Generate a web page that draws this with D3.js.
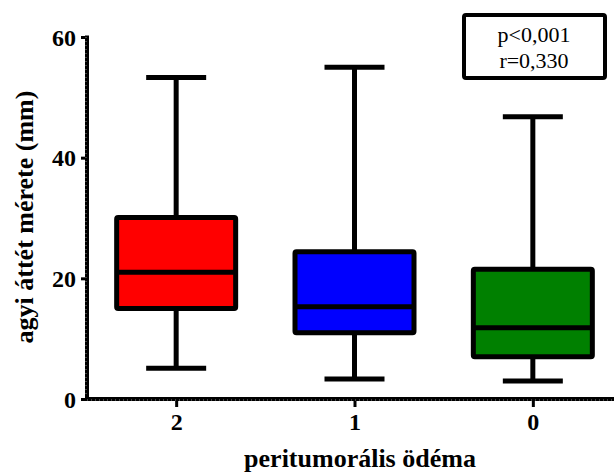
<!DOCTYPE html>
<html>
<head>
<meta charset="utf-8">
<script src="https://cdn.jsdelivr.net/npm/d3@7"></script>
<style>
	body { margin: 0; background: #fff; }
	svg { display: block; }
	text { font-family: "Liberation Serif", "Times New Roman", serif; }
</style>
</head>
<body>
<script>
/*chart data*/
var groups = ["2", "1", "0"];
var whiskerLow = [5.1, 3.3, 3.0];
var q1 = [15.0, 11.0, 7.0];
var median = [21.0, 15.3, 11.8];
var q3 = [30.1, 24.4, 21.5];
var whiskerHigh = [53.3, 55.0, 46.8];
var boxColors = ["#ff0000", "#0000ff", "#008000"];
var yTicks = [0, 20, 40, 60];
var statLines = ["p<0,001", "r=0,330"];

var svgWidth = 614;
var svgHeight = 473;
var margin = { top: 37, right: 0, bottom: 74, left: 87 };
var width = svgWidth - margin.left - margin.right;
var height = svgHeight - margin.top - margin.bottom;

var svg = d3.select("body")
	.append("svg")
	.attr("width", svgWidth)
	.attr("height", svgHeight);

var chartGroup = svg.append("g")
	.attr("transform", `translate(${margin.left}, ${margin.top})`);

/*scales*/
var xScale = d3.scalePoint()
	.domain(groups)
	.range([0, 535])
	.padding(0.5);

var yScale = d3.scaleLinear()
	.domain([0, 60])
	.range([height, 0]);

var boxWidth = 119;
var capWidth = 60;

/*build rows for each box*/
var boxData = groups.map(function (g, i) {
	return {
		group: g,
		low: whiskerLow[i],
		q1: q1[i],
		median: median[i],
		q3: q3[i],
		high: whiskerHigh[i],
		color: boxColors[i]
	};
});

/*y axis with minor stipple*/
var leftAxis = d3.axisLeft(yScale)
	.tickValues(yTicks)
	.tickSize(6)
	.tickPadding(5);

var yAxis = chartGroup.append("g")
	.attr("class", "y-axis")
	.call(leftAxis);

yAxis.select(".domain").remove();
yAxis.selectAll(".tick line")
	.attr("stroke", "#000")
	.attr("stroke-width", 3);
yAxis.selectAll(".tick text")
	.style("font-size", "24px")
	.style("font-weight", "bold")
	.attr("fill", "#000")
	.attr("dy", "0.34em");

yAxis.append("line")
	.attr("x1", 0).attr("x2", 0)
	.attr("y1", -1.5).attr("y2", height + 2)
	.attr("stroke", "#000")
	.attr("stroke-width", 4);
yAxis.append("line")
	.attr("x1", -1).attr("x2", -1)
	.attr("y1", 0).attr("y2", height)
	.attr("stroke", "#888")
	.attr("stroke-width", 1)
	.attr("stroke-dasharray", "1,3");

/*x axis*/
var bottomAxis = d3.axisBottom(xScale)
	.tickSize(8)
	.tickPadding(6);

var xAxis = chartGroup.append("g")
	.attr("class", "x-axis")
	.attr("transform", `translate(0, ${height})`)
	.call(bottomAxis);

xAxis.select(".domain").remove();
xAxis.selectAll(".tick line")
	.attr("stroke", "#000")
	.attr("stroke-width", 3);
xAxis.selectAll(".tick text")
	.style("font-size", "24px")
	.style("font-weight", "bold")
	.attr("fill", "#000");

xAxis.append("line")
	.attr("x1", -2).attr("x2", width)
	.attr("y1", 0).attr("y2", 0)
	.attr("stroke", "#000")
	.attr("stroke-width", 4);
xAxis.append("line")
	.attr("x1", 0).attr("x2", width)
	.attr("y1", 1).attr("y2", 1)
	.attr("stroke", "#888")
	.attr("stroke-width", 1)
	.attr("stroke-dasharray", "1,3");

/*whiskers*/
var boxGroups = chartGroup.selectAll(".box")
	.data(boxData)
	.enter()
	.append("g")
	.attr("class", "box")
	.attr("transform", d => `translate(${xScale(d.group)}, 0)`);

boxGroups.append("line")
	.attr("x1", 0).attr("x2", 0)
	.attr("y1", d => yScale(d.high))
	.attr("y2", d => yScale(d.low))
	.attr("stroke", "#000")
	.attr("stroke-width", 5);

boxGroups.append("line")
	.attr("x1", -capWidth / 2).attr("x2", capWidth / 2)
	.attr("y1", d => yScale(d.high))
	.attr("y2", d => yScale(d.high))
	.attr("stroke", "#000")
	.attr("stroke-width", 5);

boxGroups.append("line")
	.attr("x1", -capWidth / 2).attr("x2", capWidth / 2)
	.attr("y1", d => yScale(d.low))
	.attr("y2", d => yScale(d.low))
	.attr("stroke", "#000")
	.attr("stroke-width", 5);

/*boxes*/
boxGroups.append("rect")
	.attr("x", -boxWidth / 2)
	.attr("y", d => yScale(d.q3))
	.attr("width", boxWidth)
	.attr("height", d => yScale(d.q1) - yScale(d.q3))
	.attr("rx", 1.5)
	.attr("fill", d => d.color)
	.attr("stroke", "#000")
	.attr("stroke-width", 5);

boxGroups.append("line")
	.attr("x1", -boxWidth / 2).attr("x2", boxWidth / 2)
	.attr("y1", d => yScale(d.median))
	.attr("y2", d => yScale(d.median))
	.attr("stroke", "#000")
	.attr("stroke-width", 5);

/*axis titles*/
svg.append("text")
	.attr("x", 360)
	.attr("y", 467)
	.attr("text-anchor", "middle")
	.style("font-size", "26px")
	.style("font-weight", "bold")
	.text("peritumorális ödéma");

svg.append("text")
	.attr("transform", "translate(33, 217) rotate(-90)")
	.attr("text-anchor", "middle")
	.style("font-size", "26px")
	.style("font-weight", "bold")
	.text("agyi áttét mérete (mm)");

/*stats box*/
svg.append("rect")
	.attr("x", 464)
	.attr("y", 15)
	.attr("width", 141)
	.attr("height", 63)
	.attr("rx", 2)
	.attr("fill", "#fff")
	.attr("stroke", "#000")
	.attr("stroke-width", 4);

svg.selectAll(".stat")
	.data(statLines)
	.enter()
	.append("text")
	.attr("class", "stat")
	.attr("x", 534)
	.attr("y", (d, i) => 42 + i * 26)
	.attr("text-anchor", "middle")
	.style("font-size", "22px")
	.text(d => d);
</script>
</body>
</html>
